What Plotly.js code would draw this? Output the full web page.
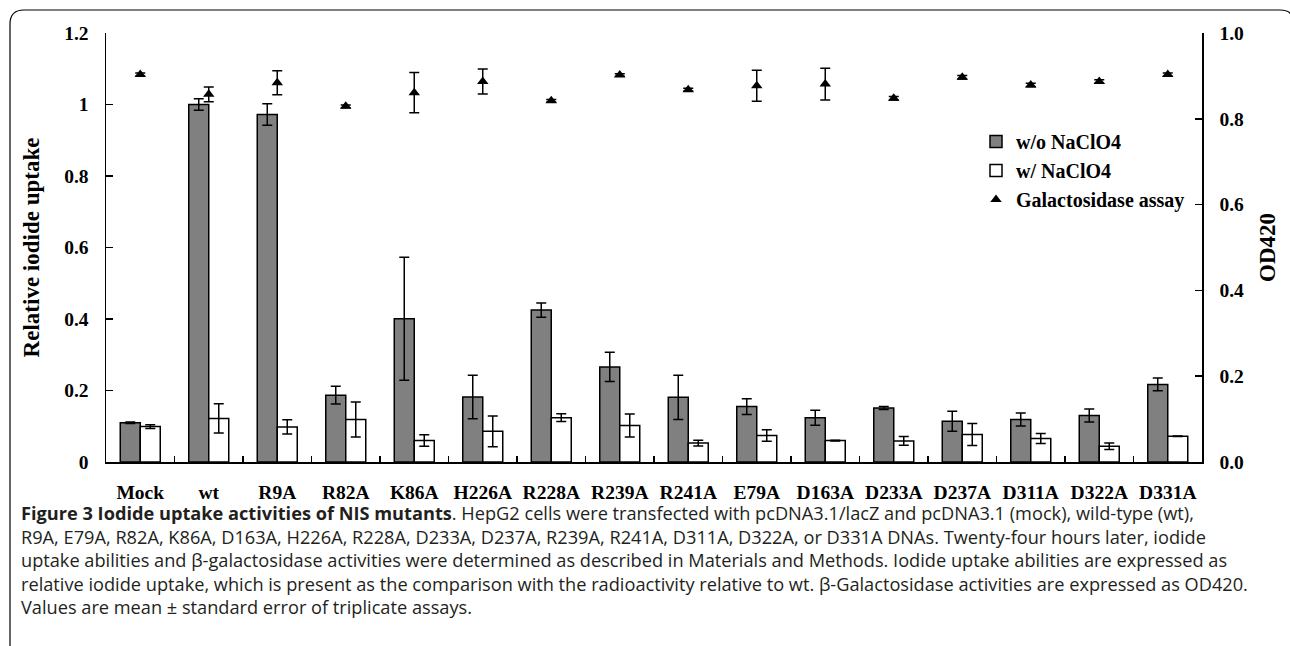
<!DOCTYPE html>
<html>
<head>
<meta charset="utf-8">
<script src="https://cdn.plot.ly/plotly-3.0.1.min.js"></script>
<style>
  html, body { margin: 0; padding: 0; background: #fff; }
  #chart { width: 1290px; height: 646px; }
</style>
</head>
<body>
<div id="chart"></div>
<script>
// ---------- data ----------
const categories = ["Mock","wt","R9A","R82A","K86A","H226A","R228A","R239A","R241A","E79A","D163A","D233A","D237A","D311A","D322A","D331A"];
const withoutNaClO4    = [0.110, 1.000, 0.972, 0.187, 0.401, 0.182, 0.425, 0.266, 0.181, 0.155, 0.124, 0.151, 0.114, 0.119, 0.130, 0.217];
const withoutNaClO4Err = [0.002, 0.016, 0.030, 0.025, 0.172, 0.061, 0.020, 0.041, 0.062, 0.022, 0.021, 0.004, 0.028, 0.018, 0.018, 0.018];
const withNaClO4       = [0.099, 0.122, 0.098, 0.119, 0.060, 0.086, 0.124, 0.102, 0.053, 0.074, 0.060, 0.059, 0.077, 0.066, 0.044, 0.072];
const withNaClO4Err    = [0.005, 0.041, 0.020, 0.049, 0.016, 0.043, 0.011, 0.032, 0.008, 0.016, 0.001, 0.012, 0.031, 0.014, 0.009, 0.001];
const galactosidase    = [0.903, 0.857, 0.884, 0.829, 0.861, 0.887, 0.842, 0.902, 0.868, 0.877, 0.881, 0.848, 0.897, 0.879, 0.887, 0.903];
const galactosidaseErr = [0.004, 0.017, 0.028, 0.003, 0.047, 0.029, 0.003, 0.003, 0.003, 0.036, 0.037, 0.004, 0.004, 0.004, 0.004, 0.004];

const captionLines = [
  "<b>Figure 3 Iodide uptake activities of NIS mutants</b>. HepG2 cells were transfected with pcDNA3.1/lacZ and pcDNA3.1 (mock), wild-type (wt),",
  "R9A, E79A, R82A, K86A, D163A, H226A, R228A, D233A, D237A, R239A, R241A, D311A, D322A, or D331A DNAs. Twenty-four hours later, iodide",
  "uptake abilities and β-galactosidase activities were determined as described in Materials and Methods. Iodide uptake abilities are expressed as",
  "relative iodide uptake, which is present as the comparison with the radioactivity relative to wt. β-Galactosidase activities are expressed as OD420.",
  "Values are mean ± standard error of triplicate assays."
];

// ---------- layout geometry ----------
const W = 1290, H = 646;
const M = {l: 106, r: 88, t: 33, b: 184};
const pw = W - M.l - M.r, ph = H - M.t - M.b;
const px2x = p => (p - M.l) / pw;
const px2y = p => (H - M.b - p) / ph;

const serif = "Liberation Serif, Times New Roman, serif";
const sans = "Open Sans, Noto Sans, sans-serif";

const errStyle = (arr) => ({type: "data", array: arr, visible: true, color: "#000", thickness: 1.5, width: 5});

const traces = [
  {
    type: "bar", name: "w/o NaClO4", x: categories, y: withoutNaClO4,
    error_y: errStyle(withoutNaClO4Err),
    marker: {color: "#808080", line: {color: "#000", width: 1.5}}
  },
  {
    type: "bar", name: "w/ NaClO4", x: categories, y: withNaClO4,
    error_y: errStyle(withNaClO4Err),
    marker: {color: "#ffffff", line: {color: "#000", width: 1.5}}
  },
  {
    type: "scatter", mode: "markers", name: "Galactosidase assay", x: categories, y: galactosidase,
    yaxis: "y2",
    error_y: errStyle(galactosidaseErr),
    marker: {symbol: "triangle-up", size: 10, color: "#000"}
  }
];

// frame with rounded top corners
const fx0 = px2x(10), fx1 = px2x(1294), fy0 = px2y(10), fyb = px2y(660);
const rX = 14 / pw, rY = 14 / ph;
const framePath = `M ${fx0},${fyb} L ${fx0},${fy0 - rY} Q ${fx0},${fy0} ${fx0 + rX},${fy0} L ${fx1 - rX},${fy0} Q ${fx1},${fy0} ${fx1},${fy0 - rY} L ${fx1},${fyb}`;

const captionY = [513, 536.5, 560, 583.5, 607];
const annotations = captionLines.map((t, i) => ({
  xref: "paper", yref: "paper", x: px2x(19), y: px2y(captionY[i]),
  xanchor: "left", yanchor: "middle", showarrow: false, align: "left",
  text: t, font: {family: sans, size: 18.2, color: "#231f20"}
}));

const axisCommon = {
  showline: true, linecolor: "#000", linewidth: 1.5,
  ticks: "inside", tickcolor: "#000", tickwidth: 1.5,
  showgrid: false, zeroline: false,
  tickfont: {family: serif, size: 19.5, color: "#000", weight: "bold"}
};

const layout = {
  width: W, height: H,
  margin: M,
  paper_bgcolor: "#fff", plot_bgcolor: "#fff",
  barmode: "group", bargap: 0.416, bargroupgap: 0,
  showlegend: true,
  legend: {
    x: px2x(976), y: px2y(122), xanchor: "left", yanchor: "top",
    bgcolor: "rgba(0,0,0,0)", traceorder: "normal",
    font: {family: serif, size: 20, color: "#000", weight: "bold"}
  },
  xaxis: Object.assign({}, axisCommon, {
    type: "category", tickson: "boundaries", ticklen: 6,
    range: [-0.5, 15.5], ticklabelstandoff: 12
  }),
  yaxis: Object.assign({}, axisCommon, {
    range: [0, 1.2], tick0: 0, dtick: 0.2, ticklen: 7,
    ticklabelstandoff: 12,
    title: {text: "Relative iodide uptake", standoff: 18,
            font: {family: serif, size: 23, color: "#000", weight: "bold"}}
  }),
  yaxis2: Object.assign({}, axisCommon, {
    overlaying: "y", side: "right",
    range: [0, 1.0], tick0: 0, dtick: 0.2, tickformat: ".1f", ticklen: 7,
    ticklabelstandoff: 12,
    title: {text: "OD420", standoff: 16,
            font: {family: serif, size: 23, color: "#000", weight: "bold"}}
  }),
  shapes: [{
    type: "path", xref: "paper", yref: "paper", path: framePath,
    line: {color: "#000", width: 1.2}
  }],
  annotations: annotations
};

Plotly.newPlot("chart", traces, layout, {displayModeBar: false, staticPlot: true});
</script>
</body>
</html>
